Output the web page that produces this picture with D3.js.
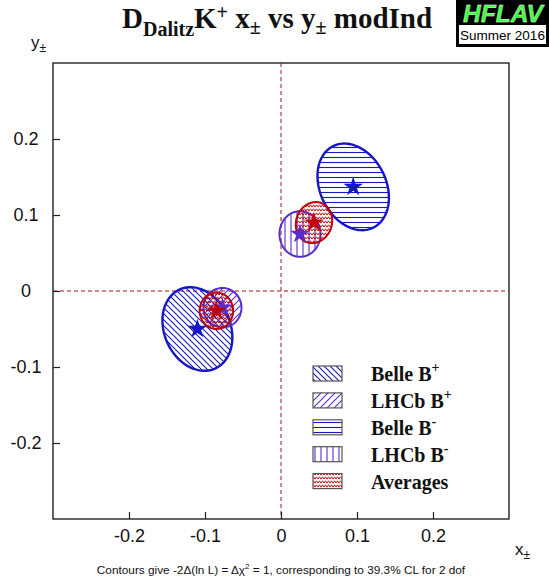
<!DOCTYPE html>
<html><head><meta charset="utf-8">
<script src="https://cdn.jsdelivr.net/npm/d3@7"></script>
<style>body{margin:0;background:#fff}</style>
</head><body><svg id="c" width="549" height="585"></svg>
<script>
// ---- data ----
const xTicks = [-0.2, -0.1, 0, 0.1, 0.2];
const yTicks = [-0.2, -0.1, 0, 0.1, 0.2];
const setNames = ["Belle B+", "Belle B-", "LHCb B+", "LHCb B-", "Average B+", "Average B-"];
const centerX = [-0.110, 0.095, -0.077, 0.025, -0.085, 0.0434];
const centerY = [-0.050, 0.137, -0.022, 0.075, -0.026, 0.090];
const sigmaX  = [0.046, 0.047, 0.025, 0.027, 0.022, 0.024];
const sigmaY  = [0.055, 0.057, 0.026, 0.030, 0.024, 0.027];
const corr    = [-0.20, -0.25, 0.0, 0.0, 0.0, 0.10];
const legendLabels = ["Belle B", "LHCb B", "Belle B", "LHCb B", "Averages"];
const legendSups   = ["+", "+", "-", "-", ""];

// ---- styles ----
const BLUE = "#1616c8", PURPLE = "#5a2ccc", RED = "#c00000";
const setPattern = ["pBelleP", "pBelleM", "pLhcbP", "pLhcbM", "pAvg", "pAvg"];
const setColor = [BLUE, BLUE, PURPLE, PURPLE, RED, RED];
const setStroke = [2.4, 2.4, 2, 2, 2, 2];
const legendPattern = ["pBelleP", "pLhcbP", "pBelleM", "pLhcbM", "pAvg"];

const svg = d3.select("#c");
const L = 53, R = 509, T = 63, B = 519;
const x = d3.scaleLinear().domain([-0.3, 0.3]).range([L, R]);
const y = d3.scaleLinear().domain([-0.3, 0.3]).range([B, T]);

// patterns
const defs = svg.append("defs");
function pat(id, w, h, d, color, sw) {
  const p = defs.append("pattern").attr("id", id).attr("patternUnits", "userSpaceOnUse")
    .attr("width", w).attr("height", h);
  p.append("path").attr("d", d).attr("stroke", color).attr("stroke-width", sw).attr("fill", "none");
}
pat("pBelleP", 6, 6, "M-1,-1 L7,7 M-1,5 L1,7 M5,-1 L7,1", BLUE, 1.1);
pat("pLhcbP", 7, 7, "M-1,8 L8,-1 M-1,1 L1,-1 M6,8 L8,6", PURPLE, 1.1);
pat("pBelleM", 6, 5, "M0,2.5 L6,2.5", BLUE, 1.1);
pat("pLhcbM", 6, 6, "M3,0 L3,6", PURPLE, 1.1);
pat("pAvg", 6, 4, "M0,3.2 L1.5,0.8 L3,3.2 L4.5,0.8 L6,3.2", RED, 0.9);

// frame
svg.append("rect").attr("x", L).attr("y", T).attr("width", R - L).attr("height", B - T)
  .attr("fill", "none").attr("stroke", "#222").attr("stroke-width", 1.4);

// zero lines
svg.append("line").attr("x1", x(0)).attr("x2", x(0)).attr("y1", T).attr("y2", B)
  .attr("stroke", "#a01010").attr("stroke-width", 1).attr("stroke-dasharray", "4,3");
svg.append("line").attr("x1", L).attr("x2", R).attr("y1", y(0)).attr("y2", y(0))
  .attr("stroke", "#a01010").attr("stroke-width", 1).attr("stroke-dasharray", "4,3");

// axes
const fmt = d => d === 0 ? "0" : String(d);
const gx = svg.append("g").attr("transform", `translate(0,${B})`)
  .call(d3.axisBottom(x).tickValues(xTicks).tickSize(-7).tickPadding(10).tickFormat(fmt));
const gy = svg.append("g").attr("transform", `translate(${L},0)`)
  .call(d3.axisLeft(y).tickValues(yTicks).tickSize(-7).tickPadding(10).tickFormat(fmt));
[gx, gy].forEach(g => {
  g.select(".domain").remove();
  g.selectAll("line").attr("stroke", "#222").attr("stroke-width", 1.2);
  g.selectAll("text").attr("font-family", "Liberation Sans, Arial, sans-serif")
    .attr("font-size", 18).attr("fill", "#111");
});
gy.selectAll("text").attr("text-anchor", "middle").attr("x", -27);

// ellipses
const line = d3.line().curve(d3.curveLinearClosed);
function ellipsePts(i) {
  const pts = [];
  const r = corr[i], s = Math.sqrt(1 - r * r);
  for (let k = 0; k < 120; k++) {
    const t = 2 * Math.PI * k / 120;
    const dx = sigmaX[i] * Math.cos(t);
    const dy = sigmaY[i] * (r * Math.cos(t) + s * Math.sin(t));
    pts.push([x(centerX[i] + dx), y(centerY[i] + dy)]);
  }
  return pts;
}
const star = d3.symbol().type(d3.symbolStar).size(120);
setNames.forEach((n, i) => {
  svg.append("path").attr("d", line(ellipsePts(i)))
    .attr("fill", `url(#${setPattern[i]})`)
    .attr("stroke", setColor[i]).attr("stroke-width", setStroke[i]);
});
setNames.forEach((n, i) => {
  svg.append("path").attr("d", star)
    .attr("transform", `translate(${x(centerX[i])},${y(centerY[i])})`)
    .attr("fill", setColor[i]);
});

// legend
const lg = svg.append("g");
legendLabels.forEach((lab, i) => {
  const yy = 366 + i * 26.9;
  lg.append("rect").attr("x", 313).attr("y", yy).attr("width", 29).attr("height", 15)
    .attr("fill", "#fff").attr("stroke", "none");
  lg.append("rect").attr("x", 313).attr("y", yy).attr("width", 29).attr("height", 15)
    .attr("fill", `url(#${legendPattern[i]})`).attr("stroke", "#555").attr("stroke-width", 1.2);
  const t = lg.append("text").attr("x", 371).attr("y", yy + 15)
    .attr("font-family", "Liberation Serif, Times New Roman, serif").attr("font-weight", "bold")
    .attr("font-size", 20).attr("fill", "#111").text(lab);
  if (legendSups[i]) t.append("tspan").attr("font-size", 14).attr("dy", -9).text(legendSups[i]);
});

// title
const title = svg.append("text").attr("x", 122).attr("y", 28)
  .attr("font-family", "Liberation Serif, Times New Roman, serif").attr("font-weight", "bold")
  .attr("font-size", 29).attr("fill", "#111");
title.append("tspan").text("D");
title.append("tspan").attr("font-size", 20).attr("dy", 8).text("Dalitz");
title.append("tspan").attr("dy", -8).text("K");
title.append("tspan").attr("font-size", 20).attr("dy", -9).text("+");
title.append("tspan").attr("dy", 9).text(" x");
title.append("tspan").attr("font-size", 20).attr("dy", 6).text("±");
title.append("tspan").attr("dy", -6).text(" vs y");
title.append("tspan").attr("font-size", 20).attr("dy", 6).text("±");
title.append("tspan").attr("dy", -6).text(" modInd");

// HFLAV logo
svg.append("rect").attr("x", 456).attr("y", 0).attr("width", 93).attr("height", 47).attr("fill", "#000");
svg.append("rect").attr("x", 459).attr("y", 25).attr("width", 87).attr("height", 19).attr("fill", "#fff");
svg.append("text").attr("x", 503).attr("y", 22).attr("text-anchor", "middle")
  .attr("font-family", "Liberation Sans, Arial, sans-serif").attr("font-weight", "bold")
  .attr("font-style", "italic").attr("font-size", 24.5).attr("fill", "#3cff3c")
  .attr("stroke", "#fff").attr("stroke-width", 0.4).text("HFLAV");
svg.append("text").attr("x", 502.5).attr("y", 40).attr("text-anchor", "middle")
  .attr("font-family", "Liberation Sans, Arial, sans-serif").attr("font-size", 13.5)
  .attr("fill", "#000").text("Summer 2016");

// axis titles
const yt = svg.append("text").attr("x", 31).attr("y", 48)
  .attr("font-family", "Liberation Sans, Arial, sans-serif").attr("font-size", 17).attr("fill", "#111").text("y");
yt.append("tspan").attr("font-size", 12).attr("dy", 4).text("±");
const xt = svg.append("text").attr("x", 515).attr("y", 555)
  .attr("font-family", "Liberation Sans, Arial, sans-serif").attr("font-size", 17).attr("fill", "#111").text("x");
xt.append("tspan").attr("font-size", 12).attr("dy", 4).text("±");

// footnote
const fn = svg.append("text").attr("x", 281).attr("y", 574).attr("text-anchor", "middle")
  .attr("font-family", "Liberation Sans, Arial, sans-serif").attr("font-size", 11.8).attr("fill", "#111")
  .text("Contours give -2Δ(ln L) = Δχ");
fn.append("tspan").attr("font-size", 8).attr("dy", -5).text("2");
fn.append("tspan").attr("dy", 5).text(" = 1, corresponding to 39.3% CL for 2 dof");
</script></body></html>
